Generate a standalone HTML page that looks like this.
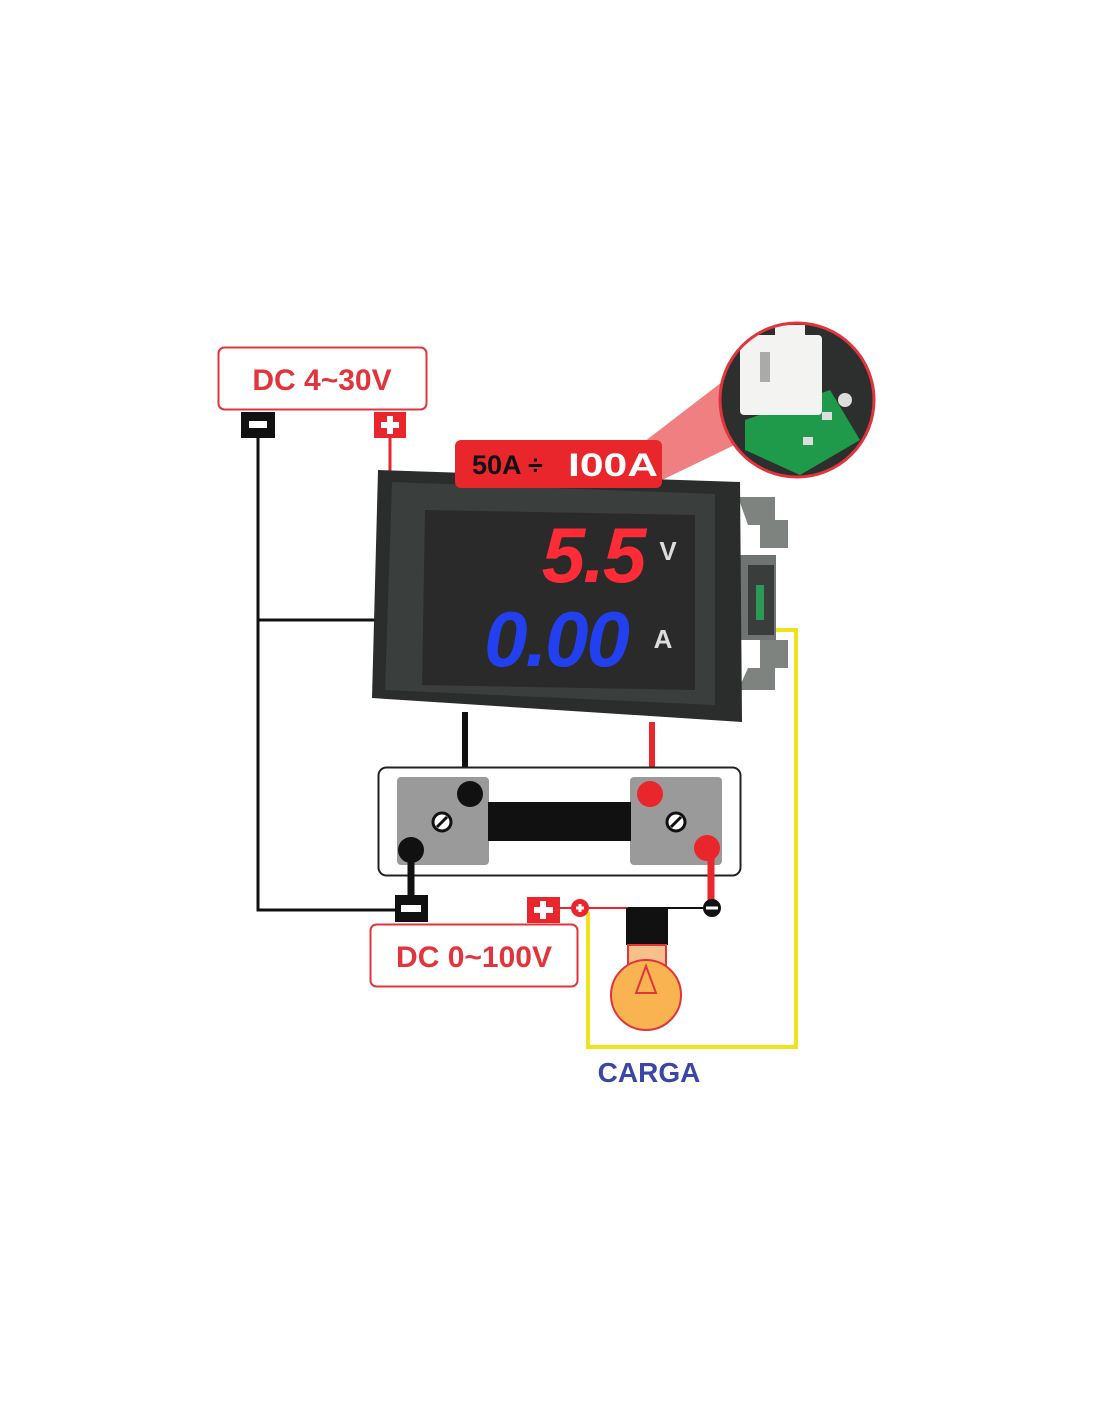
<!DOCTYPE html>
<html><head><meta charset="utf-8"><style>
html,body{margin:0;padding:0;background:#fff;}
svg{display:block;}
text{font-family:"Liberation Sans",sans-serif;font-weight:bold;}
</style></head><body>
<svg width="1100" height="1422" viewBox="0 0 1100 1422" xmlns="http://www.w3.org/2000/svg">
<defs><clipPath id="mc"><circle cx="797" cy="400" r="76"/></clipPath></defs>
<rect width="1100" height="1422" fill="#fff"/>
<polygon points="640,445 662,480 745,440 735,372" fill="#f07f82"/>
<circle cx="797" cy="400" r="77" fill="#2c2f2e"/>
<g clip-path="url(#mc)">
<path d="M745 420 L830 390 L860 440 L800 475 L745 450 Z" fill="#1e9a4a"/>
<rect x="740" y="335" width="82" height="80" rx="4" fill="#f3f3f1"/>
<rect x="775" y="325" width="30" height="15" fill="#f3f3f1"/>
<rect x="760" y="352" width="10" height="30" fill="#aaa"/>
<circle cx="845" cy="400" r="7" fill="#ddd"/>
<rect x="822" y="412" width="10" height="8" fill="#ddd"/>
<rect x="803" y="437" width="10" height="8" fill="#ddd"/>
</g>
<circle cx="797" cy="400" r="77" fill="none" stroke="#e2343c" stroke-width="3"/>

<rect x="218.5" y="347.5" width="208" height="62" rx="6" fill="#fff" stroke="#e2343c" stroke-width="2"/>
<text x="322" y="390" font-size="30" fill="#e2343c" text-anchor="middle">DC 4~30V</text>
<rect x="241" y="412" width="34" height="26" fill="#111"/>
<rect x="249" y="421" width="18" height="7" fill="#fff"/>
<rect x="374" y="412" width="32" height="26" fill="#e8262c"/>
<rect x="381" y="422" width="18" height="6" fill="#fff"/><rect x="387" y="416" width="6" height="18" fill="#fff"/>

<polyline points="258,438 258,910 398,910" fill="none" stroke="#111" stroke-width="3"/>
<line x1="258" y1="620" x2="375" y2="620" stroke="#111" stroke-width="3"/>
<line x1="390" y1="438" x2="390" y2="472" stroke="#e8262c" stroke-width="3"/>

<polyline points="588,912 588,1047 796,1047 796,630 775,630" fill="none" stroke="#f1e31b" stroke-width="4"/>

<path d="M738 497 L775 497 L775 520 L788 520 L788 548 L760 548 L760 525 L748 525 Z" fill="#7e8380"/>
<path d="M738 690 L775 690 L775 668 L788 668 L788 640 L760 640 L760 668 L748 668 Z" fill="#7e8380"/>
<rect x="738" y="555" width="38" height="85" fill="#6f7371"/>
<rect x="748" y="565" width="26" height="70" fill="#3a3d3c"/>
<rect x="756" y="585" width="8" height="35" fill="#2b9a55"/>
<polygon points="378,470 740,482 742,722 372,698" fill="#2a2d2c"/>
<polygon points="392,482 715,494 715,705 385,690" fill="#3a3e3c"/>
<polygon points="425,510 695,515 695,690 422,685" fill="#2b2a2b"/>
<text x="593" y="582" font-size="78" fill="#ff2b36" text-anchor="middle" font-style="italic" font-weight="normal" style="letter-spacing:-2px">5.5</text>
<text x="556" y="666" font-size="78" fill="#2340f0" text-anchor="middle" font-style="italic" font-weight="normal" style="letter-spacing:-2px">0.00</text>
<text x="668" y="560" font-size="26" fill="#ddd" text-anchor="middle">V</text>
<text x="663" y="648" font-size="26" fill="#ddd" text-anchor="middle">A</text>

<rect x="455" y="440" width="207" height="48" rx="6" fill="#e8262c"/>
<text x="472" y="474" font-size="27" fill="#111" font-weight="normal">50A ÷</text>
<text x="568" y="476" font-size="32" fill="#fff" textLength="90" lengthAdjust="spacingAndGlyphs">I00A</text>

<line x1="465" y1="712" x2="465" y2="795" stroke="#111" stroke-width="6"/>
<line x1="652" y1="722" x2="652" y2="795" stroke="#e8262c" stroke-width="6"/>
<rect x="378.5" y="767.5" width="362" height="108" rx="8" fill="#fff" stroke="#222" stroke-width="2"/>
<rect x="397" y="777" width="92" height="88" rx="4" fill="#9a9a9a"/>
<rect x="630" y="777" width="92" height="88" rx="4" fill="#9a9a9a"/>
<rect x="488" y="802" width="143" height="39" fill="#111"/>
<circle cx="442" cy="822" r="9" fill="#fff" stroke="#111" stroke-width="3"/><line x1="437" y1="827" x2="447" y2="817" stroke="#111" stroke-width="3"/>
<circle cx="676" cy="822" r="9" fill="#fff" stroke="#111" stroke-width="3"/><line x1="671" y1="827" x2="681" y2="817" stroke="#111" stroke-width="3"/>
<circle cx="470" cy="794" r="13" fill="#111"/>
<circle cx="650" cy="794" r="13" fill="#e8262c"/>
<circle cx="411" cy="850" r="13" fill="#111"/>
<line x1="411" y1="850" x2="411" y2="897" stroke="#111" stroke-width="7"/>
<circle cx="707" cy="848" r="13" fill="#e8262c"/>
<line x1="711" y1="850" x2="711" y2="905" stroke="#e8262c" stroke-width="7"/>

<rect x="395" y="895" width="33" height="27" fill="#111"/>
<rect x="401" y="905" width="20" height="7" fill="#fff"/>
<line x1="584" y1="908" x2="712" y2="908" stroke="#111" stroke-width="2"/>
<line x1="560" y1="908" x2="628" y2="908" stroke="#e8262c" stroke-width="2"/>
<rect x="527" y="897" width="33" height="26" fill="#e8262c"/>
<rect x="534" y="907" width="19" height="6" fill="#fff"/><rect x="540" y="901" width="6" height="18" fill="#fff"/>
<circle cx="580" cy="908" r="9" fill="#e8262c"/>
<rect x="576" y="906.5" width="8" height="3" fill="#fff"/><rect x="578.5" y="904" width="3" height="8" fill="#fff"/>
<circle cx="712" cy="908" r="9" fill="#111"/>
<rect x="706" y="906.5" width="12" height="3" fill="#fff"/>

<rect x="370.5" y="924.5" width="207" height="62" rx="6" fill="#fff" stroke="#e2343c" stroke-width="2"/>
<text x="474" y="967" font-size="30" fill="#e2343c" text-anchor="middle">DC 0~100V</text>

<rect x="626" y="908" width="42" height="37" fill="#111"/>
<rect x="628" y="945" width="38" height="20" fill="#f5c08a" stroke="#e2343c" stroke-width="2"/>
<circle cx="646" cy="995" r="35" fill="#f9b451" stroke="#e2343c" stroke-width="2"/>
<polygon points="646,966 636,993 656,993" fill="none" stroke="#e2343c" stroke-width="2"/>

<text x="649" y="1082" font-size="28" fill="#3b47a6" text-anchor="middle" font-weight="normal">CARGA</text>
</svg>
</body></html>
